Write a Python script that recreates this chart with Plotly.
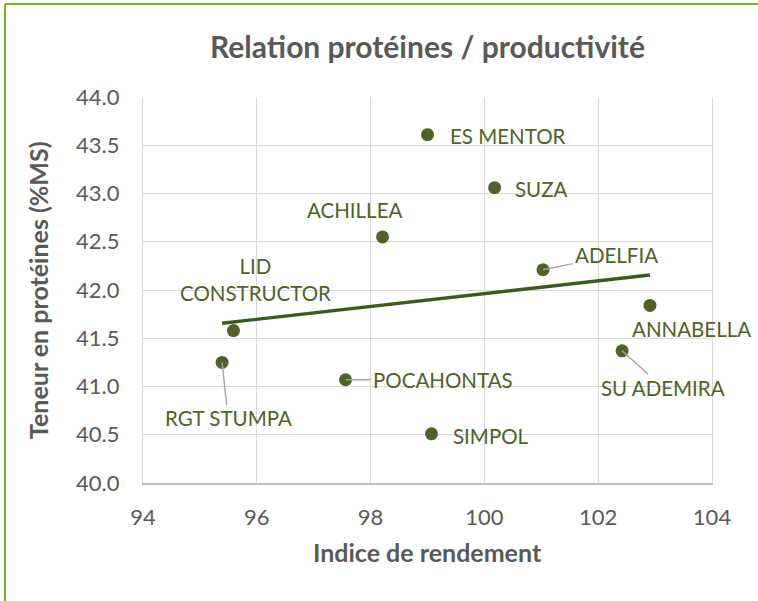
import numpy as np
import plotly.graph_objects as go

# ---- data ----
varieties = ["ES MENTOR", "SUZA", "ACHILLEA", "ADELFIA", "LID<br>CONSTRUCTOR",
             "ANNABELLA", "SU ADEMIRA", "POCAHONTAS", "RGT STUMPA", "SIMPOL"]
rendement = [99.0, 100.18, 98.21, 101.03, 95.59, 102.91, 102.42, 97.56, 95.39, 99.07]
proteines = [43.61, 43.06, 42.55, 42.21, 41.58, 41.84, 41.37, 41.07, 41.25, 40.51]

# label placement (pixel offsets from the point) and whether a leader line is drawn
label_dx = [80, 47, -28, 73, 22, 42, 41, 97, 6, 60]
label_dy = [1, 1, -27, -15, -51, 24, 37, 0, 56, 2]
leader = [False, False, False, True, False, False, True, True, True, False]

x_ticks = [94, 96, 98, 100, 102, 104]
y_ticks = [40.0, 40.5, 41.0, 41.5, 42.0, 42.5, 43.0, 43.5, 44.0]

W, H = 758, 601
ML, MR, MT, MB = 143, 46, 97, 118
PW, PH = W - ML - MR, H - MT - MB

def px_x(p):
    return (p - ML) / PW

def px_y(p):
    return (H - MB - p) / PH

DOT = "#4F6228"
LINE = "#3A5A1E"
GRAY = "#595959"
FONT = "Lato"

# linear trend
slope, intercept = np.polyfit(rendement, proteines, 1)
tx = [min(rendement), max(rendement)]
ty = [slope * v + intercept for v in tx]

fig = go.Figure()
fig.add_trace(go.Scatter(x=tx, y=ty, mode="lines",
                         line=dict(color=LINE, width=3.4), hoverinfo="skip"))
fig.add_trace(go.Scatter(x=rendement, y=proteines, mode="markers",
                         marker=dict(color=DOT, size=13, line=dict(width=0)),
                         text=varieties, cliponaxis=False))

annotations = []
for name, x, y, dx, dy, ld in zip(varieties, rendement, proteines, label_dx, label_dy, leader):
    base = dict(x=x, y=y, xref="x", yref="y", text=name,
                font=dict(family=FONT, size=20.5, color=DOT), align="center")
    if ld:
        base.update(showarrow=True, ax=dx, ay=dy, arrowhead=0, arrowwidth=1.4,
                    arrowcolor="#A6A6A6", standoff=0)
    else:
        base.update(showarrow=False, xshift=dx, yshift=-dy)
    annotations.append(base)

annotations.append(dict(text="<b>Indice de rendement</b>", xref="paper", yref="paper",
                        x=0.5, y=px_y(552), xanchor="center", yanchor="middle",
                        showarrow=False,
                        font=dict(family=FONT, size=25, color=GRAY)))
annotations.append(dict(text="<b>Teneur en protéines (%MS)</b>", xref="paper", yref="paper",
                        x=px_x(38), y=0.5, xanchor="center", yanchor="middle",
                        showarrow=False, textangle=-90,
                        font=dict(family=FONT, size=25, color=GRAY)))

shapes = [
    dict(type="line", xref="paper", yref="paper", x0=px_x(5), x1=px_x(W + 5),
         y0=px_y(4), y1=px_y(4), line=dict(color="#72B51F", width=2)),
    dict(type="line", xref="paper", yref="paper", x0=px_x(5), x1=px_x(5),
         y0=px_y(4), y1=px_y(H + 5), line=dict(color="#72B51F", width=2)),
]

fig.update_layout(
    width=W, height=H,
    margin=dict(l=ML, r=MR, t=MT, b=MB),
    paper_bgcolor="white", plot_bgcolor="white",
    showlegend=False,
    title=dict(text="<b>Relation protéines / productivité</b>", x=0.5, xref="paper",
               xanchor="center", y=1 - 47 / H, yanchor="middle",
               font=dict(family=FONT, size=30, color=GRAY)),
    xaxis=dict(range=[94, 104], tickvals=x_ticks, ticktext=[str(v) for v in x_ticks],
               showgrid=True, gridcolor="#D9D9D9", gridwidth=1.3,
               showline=True, linecolor="#BFBFBF", linewidth=1.5, mirror=False,
               zeroline=False, ticks="", ticklabelstandoff=14,
               tickfont=dict(family=FONT, size=22, color=GRAY)),
    yaxis=dict(range=[40, 44], tickvals=y_ticks, ticktext=[f"{v:.1f}" for v in y_ticks],
               showgrid=True, gridcolor="#D9D9D9", gridwidth=1.3,
               showline=True, linecolor="#D9D9D9", linewidth=1.3, mirror=True,
               zeroline=False, ticks="", ticklabelstandoff=18,
               tickfont=dict(family=FONT, size=22, color=GRAY)),
    annotations=annotations,
    shapes=shapes,
)

fig.write_html("out.html", config={"displayModeBar": False},
               post_script="document.body.style.margin='0';")
